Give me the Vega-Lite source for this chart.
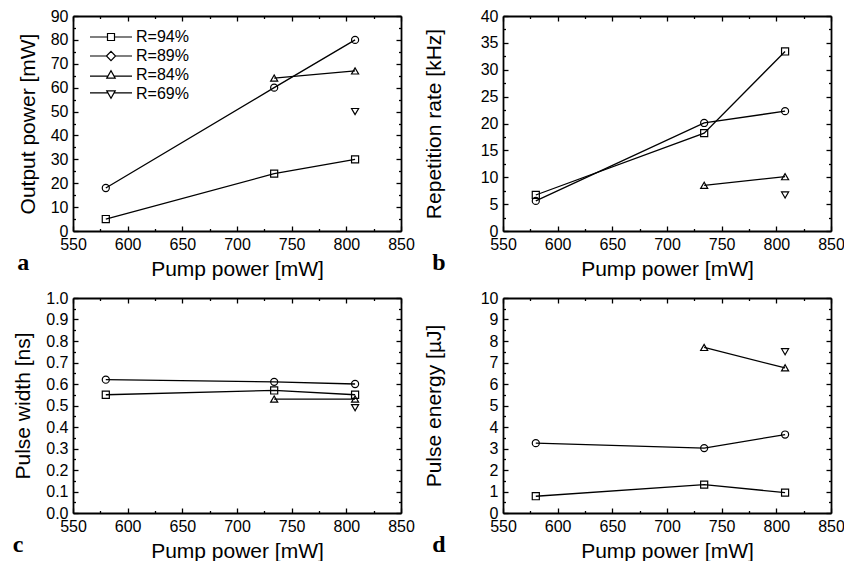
{
  "$schema": "https://vega.github.io/schema/vega-lite/v6.json",
  "padding": {"left": 12, "top": 8, "right": 0, "bottom": 0},
  "background": "white",
  "data": {"values": [
    {"panel": "a", "series": "R=94%", "pump": 580, "value": 5},
    {"panel": "a", "series": "R=94%", "pump": 734, "value": 24},
    {"panel": "a", "series": "R=94%", "pump": 808, "value": 30},
    {"panel": "a", "series": "R=89%", "pump": 580, "value": 18},
    {"panel": "a", "series": "R=89%", "pump": 734, "value": 60},
    {"panel": "a", "series": "R=89%", "pump": 808, "value": 80},
    {"panel": "a", "series": "R=84%", "pump": 734, "value": 64},
    {"panel": "a", "series": "R=84%", "pump": 808, "value": 67},
    {"panel": "a", "series": "R=69%", "pump": 808, "value": 50},
    {"panel": "b", "series": "R=94%", "pump": 580, "value": 6.7},
    {"panel": "b", "series": "R=94%", "pump": 734, "value": 18.2},
    {"panel": "b", "series": "R=94%", "pump": 808, "value": 33.4},
    {"panel": "b", "series": "R=89%", "pump": 580, "value": 5.6},
    {"panel": "b", "series": "R=89%", "pump": 734, "value": 20.1},
    {"panel": "b", "series": "R=89%", "pump": 808, "value": 22.3},
    {"panel": "b", "series": "R=84%", "pump": 734, "value": 8.5},
    {"panel": "b", "series": "R=84%", "pump": 808, "value": 10.1},
    {"panel": "b", "series": "R=69%", "pump": 808, "value": 6.7},
    {"panel": "c", "series": "R=94%", "pump": 580, "value": 0.55},
    {"panel": "c", "series": "R=94%", "pump": 734, "value": 0.57},
    {"panel": "c", "series": "R=94%", "pump": 808, "value": 0.55},
    {"panel": "c", "series": "R=89%", "pump": 580, "value": 0.62},
    {"panel": "c", "series": "R=89%", "pump": 734, "value": 0.61},
    {"panel": "c", "series": "R=89%", "pump": 808, "value": 0.60},
    {"panel": "c", "series": "R=84%", "pump": 734, "value": 0.53},
    {"panel": "c", "series": "R=84%", "pump": 808, "value": 0.53},
    {"panel": "c", "series": "R=69%", "pump": 808, "value": 0.49},
    {"panel": "d", "series": "R=94%", "pump": 580, "value": 0.78},
    {"panel": "d", "series": "R=94%", "pump": 734, "value": 1.32},
    {"panel": "d", "series": "R=94%", "pump": 808, "value": 0.95},
    {"panel": "d", "series": "R=89%", "pump": 580, "value": 3.25},
    {"panel": "d", "series": "R=89%", "pump": 734, "value": 3.02},
    {"panel": "d", "series": "R=89%", "pump": 808, "value": 3.65},
    {"panel": "d", "series": "R=84%", "pump": 734, "value": 7.7},
    {"panel": "d", "series": "R=84%", "pump": 808, "value": 6.75},
    {"panel": "d", "series": "R=69%", "pump": 808, "value": 7.5}
  ]},
  "columns": 2,
  "spacing": {"row": 11, "column": 8},
  "resolve": {"scale": {"shape": "independent"}, "legend": {"shape": "independent"}},
  "concat": [
    {
      "width": 328, "height": 215,
      "title": {"text": "a", "orient": "bottom", "anchor": "start", "frame": "bounds", "font": "Liberation Serif", "fontSize": 24, "fontWeight": "bold", "color": "black", "dx": 0, "offset": -28},
      "transform": [{"filter": "datum.panel == 'a'"}],
      "layer": [
        {
          "mark": {"type": "line", "color": "black", "strokeWidth": 1.3},
          "encoding": {
            "x": {"field": "pump", "type": "quantitative", "scale": {"domain": [550, 850], "nice": false},
              "axis": {"orient": "bottom", "title": "Pump power [mW]", "ticks": false, "tickSize": 0, "values": [550,600,650,700,750,800,850]}},
            "y": {"field": "value", "type": "quantitative", "scale": {"domain": [0, 90], "nice": false},
              "axis": {"orient": "left", "title": "Output power [mW]", "ticks": false, "tickSize": 0, "values": [0,10,20,30,40,50,60,70,80,90]}},
            "detail": {"field": "series", "type": "nominal"}
          }
        },
        {
          "mark": {"type": "point", "filled": false, "color": "black", "size": 50, "strokeWidth": 1.2, "opacity": 1},
          "encoding": {
            "x": {"field": "pump", "type": "quantitative",
              "axis": {"orient": "top", "offset": -215, "title": null, "labels": false, "domain": false, "values": [550,575,600,625,650,675,700,725,750,775,800,825,850],
                "tickSize": {"condition": {"test": "datum.value % 50 == 0", "value": 5}, "value": 2.5}}},
            "y": {"field": "value", "type": "quantitative",
              "axis": {"orient": "right", "offset": -328, "title": null, "labels": false, "domain": false, "values": [0,5,10,15,20,25,30,35,40,45,50,55,60,65,70,75,80,85,90],
                "tickSize": {"condition": {"test": "datum.value % 10 == 0", "value": 5}, "value": 2.5}}},
            "shape": {"field": "series", "type": "nominal",
              "scale": {"domain": ["R=94%", "R=89%", "R=84%", "R=69%"], "range": ["square", "circle", "triangle-up", "triangle-down"]},
              "legend": null}
          }
        },
        {
          "mark": {"type": "point", "filled": false, "color": "black", "opacity": 0},
          "encoding": {
            "x": {"field": "pump", "type": "quantitative",
              "axis": {"orient": "bottom", "offset": -215, "title": null, "labels": false, "domain": true, "values": [550,575,600,625,650,675,700,725,750,775,800,825,850],
                "tickSize": {"condition": {"test": "datum.value % 50 == 0", "value": 5}, "value": 2.5}}},
            "y": {"field": "value", "type": "quantitative",
              "axis": {"orient": "left", "offset": -328, "title": null, "labels": false, "domain": true, "values": [0,5,10,15,20,25,30,35,40,45,50,55,60,65,70,75,80,85,90],
                "tickSize": {"condition": {"test": "datum.value % 10 == 0", "value": 5}, "value": 2.5}}},
            "shape": {"field": "series", "type": "nominal",
              "scale": {"domain": ["R=94%", "R=89%", "R=84%", "R=69%"], "range": ["M-6,0H-1M1,0H6M-1,-1H1V1H-1Z", "M-6,0H-1.3M1.3,0H6M-1.3,0L0,-1.3L1.3,0L0,1.3Z", "M-6,0.3H-0.8M0.8,0.3H6M-1.2,0.9L0,-1.2L1.2,0.9Z", "M-6,-0.3H-0.8M0.8,-0.3H6M-1.2,-0.9L0,1.2L1.2,-0.9Z"]},
              "legend": {"orient": "none", "legendX": 30, "legendY": 13, "title": null, "padding": 0,
                "labelFont": "Liberation Sans", "labelFontSize": 16, "labelColor": "black", "labelOffset": 17, "rowPadding": 3,
                "symbolSize": 49, "symbolStrokeWidth": 1.2, "symbolStrokeColor": "black", "symbolFillColor": "transparent", "symbolOpacity": 1}}
          }
        }
      ],
      "resolve": {"axis": {"x": "independent", "y": "independent"}, "scale": {"shape": "independent"}, "legend": {"shape": "independent"}}
    },
    {
      "width": 328, "height": 215,
      "title": {"text": "b", "orient": "bottom", "anchor": "start", "frame": "bounds", "font": "Liberation Serif", "fontSize": 24, "fontWeight": "bold", "color": "black", "dx": 9, "offset": -28},
      "transform": [{"filter": "datum.panel == 'b'"}],
      "layer": [
        {
          "mark": {"type": "line", "color": "black", "strokeWidth": 1.3},
          "encoding": {
            "x": {"field": "pump", "type": "quantitative", "scale": {"domain": [550, 850], "nice": false},
              "axis": {"orient": "bottom", "title": "Pump power [mW]", "ticks": false, "tickSize": 0, "values": [550,600,650,700,750,800,850]}},
            "y": {"field": "value", "type": "quantitative", "scale": {"domain": [0, 40], "nice": false},
              "axis": {"orient": "left", "title": "Repetition rate [kHz]", "titlePadding": 36, "ticks": false, "tickSize": 0, "values": [0,5,10,15,20,25,30,35,40]}},
            "detail": {"field": "series", "type": "nominal"}
          }
        },
        {
          "mark": {"type": "point", "filled": false, "color": "black", "size": 50, "strokeWidth": 1.2, "opacity": 1},
          "encoding": {
            "x": {"field": "pump", "type": "quantitative",
              "axis": {"orient": "top", "offset": -215, "title": null, "labels": false, "domain": false, "values": [550,575,600,625,650,675,700,725,750,775,800,825,850],
                "tickSize": {"condition": {"test": "datum.value % 50 == 0", "value": 5}, "value": 2.5}}},
            "y": {"field": "value", "type": "quantitative",
              "axis": {"orient": "right", "offset": -328, "title": null, "labels": false, "domain": false, "values": [0,2.5,5,7.5,10,12.5,15,17.5,20,22.5,25,27.5,30,32.5,35,37.5,40],
                "tickSize": {"condition": {"test": "datum.value % 5 == 0", "value": 5}, "value": 2.5}}},
            "shape": {"field": "series", "type": "nominal",
              "scale": {"domain": ["R=94%", "R=89%", "R=84%", "R=69%"], "range": ["square", "circle", "triangle-up", "triangle-down"]},
              "legend": null}
          }
        },
        {
          "mark": {"type": "line", "opacity": 0},
          "encoding": {
            "x": {"field": "pump", "type": "quantitative",
              "axis": {"orient": "bottom", "offset": -215, "title": null, "labels": false, "domain": true, "values": [550,575,600,625,650,675,700,725,750,775,800,825,850],
                "tickSize": {"condition": {"test": "datum.value % 50 == 0", "value": 5}, "value": 2.5}}},
            "y": {"field": "value", "type": "quantitative",
              "axis": {"orient": "left", "offset": -328, "title": null, "labels": false, "domain": true, "values": [0,2.5,5,7.5,10,12.5,15,17.5,20,22.5,25,27.5,30,32.5,35,37.5,40],
                "tickSize": {"condition": {"test": "datum.value % 5 == 0", "value": 5}, "value": 2.5}}},
            "detail": {"field": "series", "type": "nominal"}
          }
        }
      ],
      "resolve": {"axis": {"x": "independent", "y": "independent"}}
    },
    {
      "width": 328, "height": 215,
      "title": {"text": "c", "orient": "bottom", "anchor": "start", "frame": "bounds", "font": "Liberation Serif", "fontSize": 24, "fontWeight": "bold", "color": "black", "dx": 0, "offset": -28},
      "transform": [{"filter": "datum.panel == 'c'"}],
      "layer": [
        {
          "mark": {"type": "line", "color": "black", "strokeWidth": 1.3},
          "encoding": {
            "x": {"field": "pump", "type": "quantitative", "scale": {"domain": [550, 850], "nice": false},
              "axis": {"orient": "bottom", "title": "Pump power [mW]", "ticks": false, "tickSize": 0, "values": [550,600,650,700,750,800,850]}},
            "y": {"field": "value", "type": "quantitative", "scale": {"domain": [0, 1], "nice": false},
              "axis": {"orient": "left", "title": "Pulse width [ns]", "ticks": false, "tickSize": 0, "format": ".1f", "values": [0,0.1,0.2,0.3,0.4,0.5,0.6,0.7,0.8,0.9,1]}},
            "detail": {"field": "series", "type": "nominal"}
          }
        },
        {
          "mark": {"type": "point", "filled": false, "color": "black", "size": 50, "strokeWidth": 1.2, "opacity": 1},
          "encoding": {
            "x": {"field": "pump", "type": "quantitative",
              "axis": {"orient": "top", "offset": -215, "title": null, "labels": false, "domain": false, "values": [550,575,600,625,650,675,700,725,750,775,800,825,850],
                "tickSize": {"condition": {"test": "datum.value % 50 == 0", "value": 5}, "value": 2.5}}},
            "y": {"field": "value", "type": "quantitative",
              "axis": {"orient": "right", "offset": -328, "title": null, "labels": false, "domain": false, "values": [0,0.05,0.1,0.15,0.2,0.25,0.3,0.35,0.4,0.45,0.5,0.55,0.6,0.65,0.7,0.75,0.8,0.85,0.9,0.95,1],
                "tickSize": {"condition": {"test": "abs(datum.value*10 - round(datum.value*10)) < 0.001", "value": 5}, "value": 2.5}}},
            "shape": {"field": "series", "type": "nominal",
              "scale": {"domain": ["R=94%", "R=89%", "R=84%", "R=69%"], "range": ["square", "circle", "triangle-up", "triangle-down"]},
              "legend": null}
          }
        },
        {
          "mark": {"type": "line", "opacity": 0},
          "encoding": {
            "x": {"field": "pump", "type": "quantitative",
              "axis": {"orient": "bottom", "offset": -215, "title": null, "labels": false, "domain": true, "values": [550,575,600,625,650,675,700,725,750,775,800,825,850],
                "tickSize": {"condition": {"test": "datum.value % 50 == 0", "value": 5}, "value": 2.5}}},
            "y": {"field": "value", "type": "quantitative",
              "axis": {"orient": "left", "offset": -328, "title": null, "labels": false, "domain": true, "values": [0,0.05,0.1,0.15,0.2,0.25,0.3,0.35,0.4,0.45,0.5,0.55,0.6,0.65,0.7,0.75,0.8,0.85,0.9,0.95,1],
                "tickSize": {"condition": {"test": "abs(datum.value*10 - round(datum.value*10)) < 0.001", "value": 5}, "value": 2.5}}},
            "detail": {"field": "series", "type": "nominal"}
          }
        }
      ],
      "resolve": {"axis": {"x": "independent", "y": "independent"}}
    },
    {
      "width": 328, "height": 215,
      "title": {"text": "d", "orient": "bottom", "anchor": "start", "frame": "bounds", "font": "Liberation Serif", "fontSize": 24, "fontWeight": "bold", "color": "black", "dx": 9, "offset": -28},
      "transform": [{"filter": "datum.panel == 'd'"}],
      "layer": [
        {
          "mark": {"type": "line", "color": "black", "strokeWidth": 1.3},
          "encoding": {
            "x": {"field": "pump", "type": "quantitative", "scale": {"domain": [550, 850], "nice": false},
              "axis": {"orient": "bottom", "title": "Pump power [mW]", "ticks": false, "tickSize": 0, "values": [550,600,650,700,750,800,850]}},
            "y": {"field": "value", "type": "quantitative", "scale": {"domain": [0, 10], "nice": false},
              "axis": {"orient": "left", "title": "Pulse energy [µJ]", "titlePadding": 36, "ticks": false, "tickSize": 0, "values": [0,1,2,3,4,5,6,7,8,9,10]}},
            "detail": {"field": "series", "type": "nominal"}
          }
        },
        {
          "mark": {"type": "point", "filled": false, "color": "black", "size": 50, "strokeWidth": 1.2, "opacity": 1},
          "encoding": {
            "x": {"field": "pump", "type": "quantitative",
              "axis": {"orient": "top", "offset": -215, "title": null, "labels": false, "domain": false, "values": [550,575,600,625,650,675,700,725,750,775,800,825,850],
                "tickSize": {"condition": {"test": "datum.value % 50 == 0", "value": 5}, "value": 2.5}}},
            "y": {"field": "value", "type": "quantitative",
              "axis": {"orient": "right", "offset": -328, "title": null, "labels": false, "domain": false, "values": [0,0.5,1,1.5,2,2.5,3,3.5,4,4.5,5,5.5,6,6.5,7,7.5,8,8.5,9,9.5,10],
                "tickSize": {"condition": {"test": "datum.value % 1 == 0", "value": 5}, "value": 2.5}}},
            "shape": {"field": "series", "type": "nominal",
              "scale": {"domain": ["R=94%", "R=89%", "R=84%", "R=69%"], "range": ["square", "circle", "triangle-up", "triangle-down"]},
              "legend": null}
          }
        },
        {
          "mark": {"type": "line", "opacity": 0},
          "encoding": {
            "x": {"field": "pump", "type": "quantitative",
              "axis": {"orient": "bottom", "offset": -215, "title": null, "labels": false, "domain": true, "values": [550,575,600,625,650,675,700,725,750,775,800,825,850],
                "tickSize": {"condition": {"test": "datum.value % 50 == 0", "value": 5}, "value": 2.5}}},
            "y": {"field": "value", "type": "quantitative",
              "axis": {"orient": "left", "offset": -328, "title": null, "labels": false, "domain": true, "values": [0,0.5,1,1.5,2,2.5,3,3.5,4,4.5,5,5.5,6,6.5,7,7.5,8,8.5,9,9.5,10],
                "tickSize": {"condition": {"test": "datum.value % 1 == 0", "value": 5}, "value": 2.5}}},
            "detail": {"field": "series", "type": "nominal"}
          }
        }
      ],
      "resolve": {"axis": {"x": "independent", "y": "independent"}}
    }
  ],
  "config": {
    "view": {"stroke": null},
    "axis": {
      "grid": false, "domainColor": "black", "domainWidth": 1.8, "tickColor": "black", "tickWidth": 1.3, "ticks": true,
      "labelFont": "Liberation Sans", "labelFontSize": 16, "labelColor": "black", "labelPadding": 5,
      "titleFont": "Liberation Sans", "titleFontSize": 21, "titleFontWeight": "normal", "titleColor": "black",
      "labelOverlap": false, "labelFlush": false
    },
    "axisY": {"titlePadding": 12},
    "axisX": {"titlePadding": 6}
  }
}
